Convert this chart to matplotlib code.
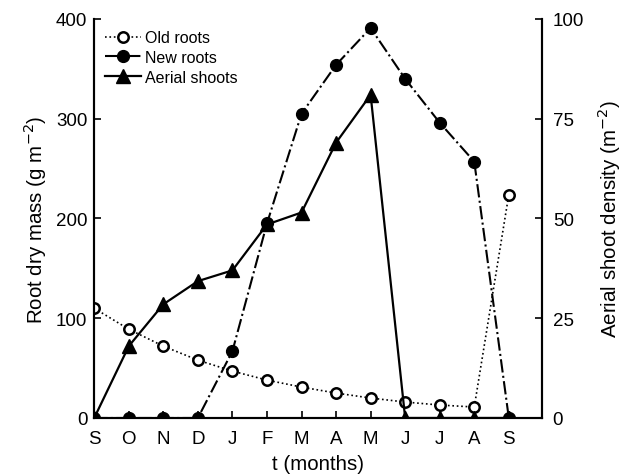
import matplotlib
matplotlib.use('Agg')
import matplotlib.pyplot as plt
import numpy as np

plt.rcParams['font.family'] = ['Liberation Sans', 'DejaVu Sans']

months = ['S', 'O', 'N', 'D', 'J', 'F', 'M', 'A', 'M', 'J', 'J', 'A', 'S']
old_roots = [110, 89, 72, 58, 47, 38, 31, 25, 20, 16, 13, 11, 224]
new_roots = [0, 0, 0, 0, 67, 195, 305, 354, 391, 340, 296, 257, 0]
aerial_shoots = [0, 18, 28.5, 34.3, 37, 48.5, 51.5, 69, 81, 0, 0, 0, 0]

x = np.arange(len(months))

fig = plt.figure(figsize=(6.24, 4.77), dpi=100)
ax = fig.add_axes([0.151, 0.1216, 0.717, 0.8365])
ax2 = ax.twinx()

l1, = ax.plot(x, old_roots, ':', color='black', lw=1.2, marker='o',
              mfc='white', mec='black', mew=1.8, ms=7.5, label='Old roots')
l2, = ax.plot(x, new_roots, '-.', color='black', lw=1.5, marker='o',
              mfc='black', mec='black', ms=8.5, label='New roots')
l3, = ax2.plot(x, aerial_shoots, '-', color='black', lw=1.6, marker='^',
               mfc='black', mec='black', ms=10, label='Aerial shoots')

for a in (ax, ax2):
    a.set_xlim(0, 12.95)
    a.spines['top'].set_visible(False)
    for s in a.spines.values():
        s.set_linewidth(1.5)
    a.tick_params(direction='in', width=1.2, length=5, labelsize=13.5)
ax.patch.set_visible(False)
ax.tick_params(axis='x', pad=9)
ax.tick_params(axis='y', pad=5)
ax2.tick_params(axis='y', pad=8)

ax.set_ylim(0, 400)
ax.set_yticks([0, 100, 200, 300, 400])
ax2.set_ylim(0, 100)
ax2.set_yticks([0, 25, 50, 75, 100])
ax.set_xticks(x)
ax.set_xticklabels(months)

ax.set_xlabel('t (months)', fontsize=14.8, labelpad=5)
ax.set_ylabel('Root dry mass (g m$^{-2}$)', fontsize=14.8, labelpad=5)
ax2.set_ylabel('Aerial shoot density (m$^{-2}$)', fontsize=14.8, labelpad=8)

ax.legend(handles=[l1, l2, l3], loc='upper left', frameon=False,
          fontsize=11.5, handlelength=2.2, handletextpad=0.3,
          labelspacing=0.3, borderaxespad=0.3, bbox_to_anchor=(0.0, 1.0))

fig.savefig('out.png', dpi=100)
